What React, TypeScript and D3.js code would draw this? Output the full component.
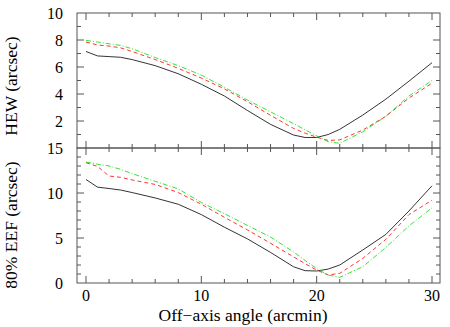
import React from "react";
import * as d3 from "d3";

const angles = [0, 1, 2, 3, 4, 6, 8, 10, 12, 14, 16, 18, 19, 20, 21, 22, 24, 26, 28, 30];

const hewBlack = [7.15, 6.82, 6.77, 6.72, 6.55, 6.1, 5.5, 4.72, 3.85, 2.78, 1.75, 0.96, 0.78, 0.78, 1.0, 1.38, 2.44, 3.62, 4.95, 6.32];
const hewRed = [7.85, 7.63, 7.55, 7.42, 7.15, 6.55, 5.9, 5.18, 4.38, 3.43, 2.42, 1.45, 1.1, 0.8, 0.56, 0.6, 1.33, 2.35, 3.7, 4.8];
const hewGreen = [7.97, 7.85, 7.72, 7.6, 7.35, 6.7, 6.1, 5.4, 4.5, 3.55, 2.68, 1.8, 1.35, 0.9, 0.47, 0.35, 1.2, 2.35, 3.85, 5.0];

const eefBlack = [11.5, 10.65, 10.5, 10.33, 10.05, 9.45, 8.75, 7.6, 6.2, 4.9, 3.4, 1.8, 1.37, 1.33, 1.55, 2.0, 3.67, 5.4, 8.0, 10.8];
const eefRed = [13.37, 12.95, 11.89, 11.74, 11.45, 10.95, 10.05, 8.75, 7.3, 5.9, 4.42, 2.9, 2.15, 1.44, 0.89, 1.07, 2.74, 4.85, 7.6, 9.2];
const eefGreen = [13.44, 13.2, 13.0, 12.63, 12.15, 11.3, 10.45, 8.95, 7.7, 6.4, 5.1, 3.45, 2.5, 1.6, 0.89, 0.63, 1.81, 3.95, 6.35, 8.35];

const xTicksMajor = [0, 10, 20, 30];
const xTicksMinor = [2, 4, 6, 8, 12, 14, 16, 18, 22, 24, 26, 28];
const hewTickLabels = [2, 4, 6, 8, 10];
const eefTickLabels = [0, 5, 10, 15];

const W = 450;
const H = 327;
const L = 77;
const R = 440;
const TOP = 13;
const MID = 148;
const BOT = 283;
const FONT = "Liberation Serif, DejaVu Serif, serif";
const AXIS = "#555";

const x = d3.scaleLinear().domain([0, 30]).range([86, 432]);
const yTop = d3.scaleLinear().domain([0, 10]).range([MID, TOP]);
const yBot = d3.scaleLinear().domain([0, 15]).range([BOT, MID]);

const series = [
  { color: "#000", dash: "", width: 0.8 },
  { color: "#ff0000", dash: "4,3", width: 0.8 },
  { color: "#00dd00", dash: "5,2,1,2", width: 0.8 },
];

function Panel({ y, data, yMinor, yMajor, top, bottom }: any) {
  const line = d3
    .line<number>()
    .x((_, i) => x(angles[i]))
    .y((d) => y(d));
  const els: any[] = [];
  xTicksMajor.forEach((t) => {
    els.push(<line key={"xb" + t} x1={x(t)} x2={x(t)} y1={bottom} y2={bottom - 7} stroke={AXIS} />);
    els.push(<line key={"xt" + t} x1={x(t)} x2={x(t)} y1={top} y2={top + 7} stroke={AXIS} />);
  });
  xTicksMinor.forEach((t) => {
    els.push(<line key={"xbm" + t} x1={x(t)} x2={x(t)} y1={bottom} y2={bottom - 4} stroke={AXIS} />);
    els.push(<line key={"xtm" + t} x1={x(t)} x2={x(t)} y1={top} y2={top + 4} stroke={AXIS} />);
  });
  yMinor.forEach((t: number) => {
    const major = yMajor.includes(t);
    const len = major ? 7 : 4;
    els.push(<line key={"yl" + t} x1={L} x2={L + len} y1={y(t)} y2={y(t)} stroke={AXIS} />);
    els.push(<line key={"yr" + t} x1={R} x2={R - len} y1={y(t)} y2={y(t)} stroke={AXIS} />);
  });
  return (
    <g>
      <rect x={L} y={top} width={R - L} height={bottom - top} fill="none" stroke={AXIS} strokeWidth={1} />
      {els}
      {data.map((d: number[], i: number) => (
        <path
          key={i}
          d={line(d) || ""}
          fill="none"
          stroke={series[i].color}
          strokeWidth={series[i].width}
          strokeDasharray={series[i].dash}
        />
      ))}
    </g>
  );
}

export default function App() {
  const hewMinor = d3.range(1, 10);
  const eefMinor = d3.range(1, 15);
  return (
    <svg width={W} height={H} style={{ position: "absolute", left: 0, top: 0, background: "#fff" }}>
      <rect width={W} height={H} fill="#fff" />
      <Panel y={yTop} data={[hewBlack, hewRed, hewGreen]} yMinor={hewMinor} yMajor={[2, 4, 6, 8]} top={TOP} bottom={MID} />
      <Panel y={yBot} data={[eefBlack, eefRed, eefGreen]} yMinor={eefMinor} yMajor={[5, 10]} top={MID} bottom={BOT} />
      <g style={{ fontFamily: FONT, fontSize: "16px" }} fill="#000">
        {hewTickLabels.map((t) => (
          <text key={"h" + t} x={63} y={yTop(t) + 5.5} textAnchor="end">{t}</text>
        ))}
        {eefTickLabels.map((t) => (
          <text key={"e" + t} x={63} y={yBot(t) + 5.5} textAnchor="end">{t}</text>
        ))}
        {xTicksMajor.map((t) => (
          <text key={"x" + t} x={x(t)} y={301} textAnchor="middle">{t}</text>
        ))}
      </g>
      <g style={{ fontFamily: FONT, fontSize: "17.5px" }} fill="#000">
        <text transform={`translate(17,86) rotate(-90)`} textAnchor="middle">HEW (arcsec)</text>
        <text transform={`translate(17,225) rotate(-90)`} textAnchor="middle">80% EEF (arcsec)</text>
        <text x={243} y={321} textAnchor="middle">Off−axis angle (arcmin)</text>
      </g>
    </svg>
  );
}
